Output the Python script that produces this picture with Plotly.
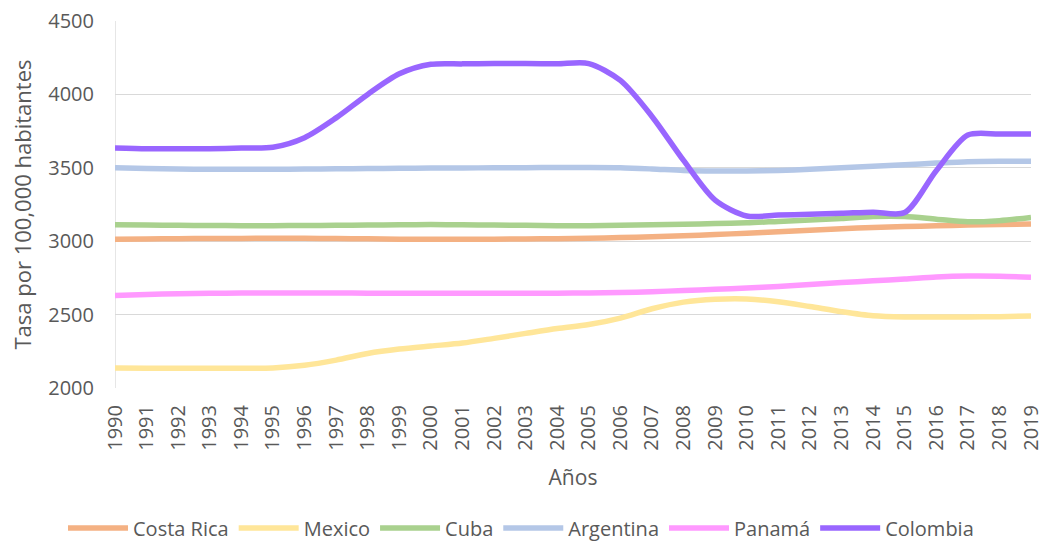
import plotly.graph_objects as go

years = list(range(1990, 2020))

costa_rica = [3013, 3015, 3017, 3018, 3019, 3020, 3020, 3018, 3016, 3014, 3013, 3013, 3014, 3015, 3017, 3020, 3025, 3030, 3037, 3045, 3055, 3065, 3075, 3085, 3093, 3100, 3105, 3110, 3114, 3117]
mexico = [2136, 2135, 2135, 2135, 2135, 2137, 2155, 2190, 2235, 2265, 2286, 2306, 2338, 2372, 2405, 2432, 2476, 2540, 2585, 2604, 2606, 2588, 2555, 2520, 2492, 2484, 2484, 2484, 2486, 2490]
cuba = [3112, 3110, 3108, 3107, 3106, 3106, 3107, 3108, 3110, 3112, 3113, 3112, 3110, 3108, 3106, 3106, 3108, 3112, 3116, 3120, 3125, 3135, 3145, 3155, 3168, 3168, 3150, 3132, 3140, 3162]
argentina = [3500, 3495, 3492, 3490, 3490, 3490, 3491, 3493, 3495, 3497, 3498, 3499, 3500, 3501, 3502, 3502, 3500, 3492, 3482, 3478, 3478, 3482, 3490, 3500, 3510, 3520, 3532, 3542, 3545, 3545]
panama = [2630, 2637, 2642, 2645, 2647, 2647, 2647, 2647, 2646, 2646, 2645, 2645, 2645, 2645, 2646, 2647, 2650, 2656, 2664, 2672, 2681, 2692, 2705, 2718, 2730, 2742, 2756, 2763, 2762, 2755]
colombia = [3635, 3630, 3630, 3630, 3635, 3640, 3705, 3840, 4000, 4140, 4205, 4208, 4210, 4210, 4208, 4210, 4095, 3850, 3550, 3280, 3172, 3178, 3184, 3190, 3198, 3195, 3480, 3723, 3730, 3730]

series = [
    ("Costa Rica", costa_rica, "#F4B183"),
    ("Mexico", mexico, "#FFE699"),
    ("Cuba", cuba, "#A9D18E"),
    ("Argentina", argentina, "#B4C7E7"),
    ("Panamá", panama, "#FF99FF"),
    ("Colombia", colombia, "#9966FF"),
]

fig = go.Figure()
for name, vals, col in series:
    fig.add_trace(go.Scatter(
        x=years, y=vals, name=name, mode="lines",
        line=dict(color=col, width=5.5, shape="spline", smoothing=0.8),
    ))

font_family = "Open Sans, Lato, sans-serif"
fig.update_layout(
    width=1042, height=542,
    margin=dict(l=115, r=11, t=21, b=154, autoexpand=False),
    plot_bgcolor="white", paper_bgcolor="white",
    font=dict(family=font_family, size=20, color="#595959"),
    showlegend=True,
    legend=dict(orientation="h", x=0.5, xanchor="center", xref="container",
                y=1 - 528 / 542, yanchor="middle", yref="container",
                font=dict(size=20, color="#595959"), itemwidth=60, tracegroupgap=0),
    xaxis=dict(
        range=[1990, 2019], tickmode="array", tickvals=years, ticktext=[str(y) for y in years],
        tickangle=-90, showgrid=False, showline=False, zeroline=False, ticks="",
        tickfont=dict(size=20, color="#595959"), automargin=False, ticklabelstandoff=12,
        ticklabeloverflow="allow",
        title=dict(text="Años", font=dict(size=21, color="#595959"), standoff=20),
    ),
    yaxis=dict(
        range=[2000, 4500], tickvals=[2000, 2500, 3000, 3500, 4000, 4500],
        showgrid=True, gridcolor="#D9D9D9", gridwidth=1.3, zeroline=False,
        showline=False, ticks="", tickfont=dict(size=20, color="#595959"), automargin=False,
        ticklabelstandoff=20, ticklabeloverflow="allow",
        title=dict(text="Tasa por 100,000 habitantes", font=dict(size=22, color="#595959"), standoff=10),
    ),
)
fig.add_vline(x=1990, line=dict(color="#D9D9D9", width=1.3), layer="below")

fig.write_html("out.html")
